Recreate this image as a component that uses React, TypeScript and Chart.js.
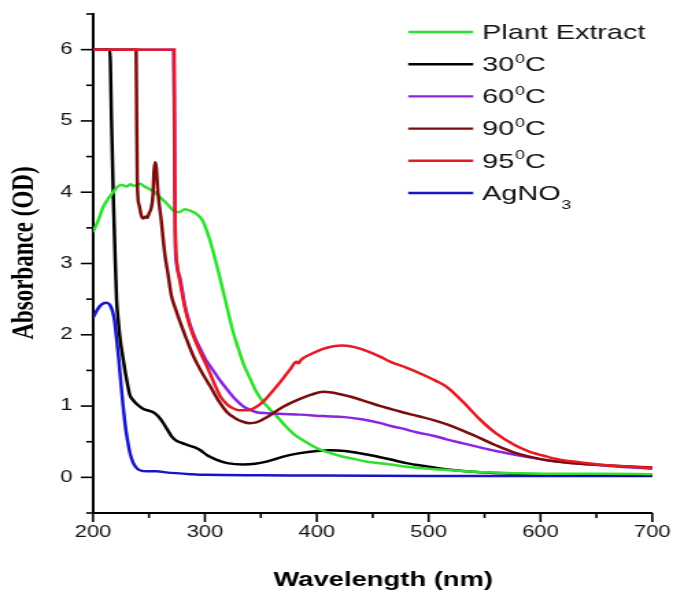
import React, { useEffect, useRef } from 'react';
import { Chart, registerables } from 'chart.js';

Chart.register(...registerables);

// The reference figure is horizontally stretched; we render on a narrower
// canvas and stretch it with CSS to reproduce text widths and line thickness.
const STRETCH = 1.37;
const W = 673;
const H = 595;
const IW = Math.round(W / STRETCH);

// ---- Data (wavelength in nm, absorbance in OD) ----
const plantWl = [200, 205, 209, 214, 218, 222, 226, 230, 233, 237, 242, 246, 250, 255, 260, 266, 272, 277, 282, 287, 292, 298, 304, 311, 318, 325, 330, 335, 340, 346, 351, 356, 364, 372, 380, 391, 400, 410, 421, 430, 445, 466, 480, 500, 520, 550, 600, 650, 700];
const plantAbs = [3.44, 3.62, 3.79, 3.92, 4.0, 4.08, 4.1, 4.08, 4.11, 4.09, 4.12, 4.08, 4.05, 4.0, 3.93, 3.84, 3.74, 3.72, 3.76, 3.74, 3.7, 3.6, 3.35, 2.95, 2.5, 2.05, 1.8, 1.57, 1.4, 1.2, 1.08, 0.99, 0.86, 0.72, 0.6, 0.49, 0.41, 0.35, 0.3, 0.27, 0.22, 0.18, 0.15, 0.12, 0.1, 0.07, 0.05, 0.05, 0.045];

const c30Wl = [200, 215, 216.5, 218, 219.5, 221, 222.5, 224.5, 226.5, 228.5, 230.5, 233, 236, 239, 245, 251, 255, 258, 262, 266, 270, 274, 278, 285, 291, 296, 302, 310, 320, 334, 345, 355, 370, 385, 400, 412, 425, 445, 466, 480, 500, 517, 546, 580, 620, 700];
const c30Abs = [6.0, 6.0, 5.0, 4.0, 3.2, 2.5, 2.2, 1.9, 1.7, 1.5, 1.33, 1.15, 1.08, 1.03, 0.96, 0.93, 0.9, 0.86, 0.78, 0.68, 0.58, 0.52, 0.49, 0.45, 0.42, 0.38, 0.31, 0.25, 0.2, 0.18, 0.19, 0.22, 0.29, 0.34, 0.37, 0.38, 0.37, 0.32, 0.25, 0.2, 0.15, 0.11, 0.07, 0.05, 0.04, 0.03];

const c60Wl = [200, 272, 272.6, 273, 273.5, 274.5, 278, 282, 286, 290, 296, 302, 307, 313, 320, 327, 334, 340, 347, 356, 370, 385, 406, 425, 440, 457, 466, 475, 490, 505, 517, 530, 546, 560, 576, 590, 606, 636, 670, 700];
const c60Abs = [6.0, 6.0, 5.0, 4.0, 3.3, 3.02, 2.78, 2.42, 2.18, 2.0, 1.8, 1.62, 1.51, 1.37, 1.23, 1.1, 1.0, 0.95, 0.91, 0.9, 0.89, 0.88, 0.86, 0.845, 0.815, 0.76, 0.72, 0.69, 0.63, 0.58, 0.53, 0.48, 0.42, 0.37, 0.32, 0.28, 0.24, 0.19, 0.15, 0.12];

const c90Wl = [200, 238.5, 239, 239.5, 240, 241.5, 243, 245, 247, 248.5, 250, 252, 253.5, 254.5, 255.5, 256.5, 258, 261, 264, 267, 270, 274, 278, 284, 290, 297, 305, 312, 320, 327, 334, 340, 346, 355, 370, 385, 395, 406, 420, 435, 445, 457, 466, 475, 490, 505, 517, 530, 546, 560, 576, 590, 606, 636, 670, 700];
const c90Abs = [6.0, 6.0, 5.0, 4.2, 3.95, 3.8, 3.68, 3.63, 3.66, 3.64, 3.7, 3.78, 3.95, 4.3, 4.42, 4.35, 4.0, 3.6, 3.15, 2.85, 2.55, 2.35, 2.17, 1.92, 1.69, 1.48, 1.27, 1.08, 0.91, 0.83, 0.78, 0.76, 0.77, 0.84, 0.99, 1.1, 1.16, 1.2, 1.17, 1.11, 1.06, 1.0, 0.96, 0.92, 0.86, 0.8, 0.74, 0.66, 0.55, 0.45, 0.35, 0.29, 0.24, 0.19, 0.16, 0.14];

const c95Wl = [200, 272.5, 273, 273.4, 274, 275.5, 278, 282, 286, 290, 296, 302, 308, 314, 320, 325, 331, 338, 345, 352, 360, 368, 376, 382, 383.5, 386, 395, 405, 415, 423, 430, 440, 450, 457, 466, 480, 495, 507, 517, 530, 546, 560, 576, 590, 606, 620, 636, 660, 680, 700];
const c95Abs = [6.0, 6.0, 4.5, 3.6, 3.2, 2.95, 2.72, 2.39, 2.15, 1.97, 1.75, 1.55, 1.33, 1.13, 1.02, 0.97, 0.94, 0.94, 0.98, 1.06, 1.2, 1.35, 1.51, 1.62, 1.6, 1.65, 1.73, 1.8, 1.84, 1.85, 1.84, 1.8, 1.74, 1.69, 1.62, 1.54, 1.44, 1.35, 1.26, 1.07, 0.81, 0.62, 0.46, 0.36, 0.29, 0.24, 0.21, 0.17, 0.15, 0.13];

const agWl = [200, 203, 206, 209, 212, 215, 217, 219, 221, 223, 225, 227, 229, 231, 233, 236, 239, 242, 248, 257, 265, 287, 300, 350, 400, 500, 600, 700];
const agAbs = [2.24, 2.33, 2.4, 2.44, 2.45, 2.42, 2.35, 2.22, 1.95, 1.65, 1.3, 0.98, 0.7, 0.5, 0.34, 0.2, 0.13, 0.1, 0.085, 0.085, 0.07, 0.045, 0.035, 0.03, 0.025, 0.02, 0.02, 0.02];

const seriesLabels = ['Plant Extract', '30⁰C', '60⁰C', '90⁰C', '95⁰C', 'AgNO₃'];
const seriesColors = ['#2fe02f', '#000000', '#8a26e0', '#7a0c0c', '#e31b23', '#1616c8'];
const seriesWl = [plantWl, c30Wl, c60Wl, c90Wl, c95Wl, agWl];
const seriesAbs = [plantAbs, c30Abs, c60Abs, c90Abs, c95Abs, agAbs];
const seriesOrder = [3, 4, 2, 1, 0, 5];

const xTickLabels = ['200', '300', '400', '500', '600', '700'];
const yTickLabels = ['0', '1', '2', '3', '4', '5', '6'];
const xTitle = 'Wavelength (nm)';
const yTitle = 'Absorbance (OD)';

const SANS = '"Liberation Sans", Arial, sans-serif';
const SERIF = '"Liberation Serif", "Times New Roman", serif';

const tickMarksPlugin = {
  id: 'tickMarks',
  afterDraw(chart: any) {
    const ctx = chart.ctx;
    const xs = chart.scales.x;
    const ys = chart.scales.y;
    ctx.save();
    ctx.strokeStyle = '#000';
    ctx.lineWidth = 1.6;
    xs.ticks.forEach((t: any) => {
      const px = xs.getPixelForValue(t.value);
      const len = xTickLabels.includes(String(t.value)) ? 9 : 5;
      ctx.beginPath();
      ctx.moveTo(px, xs.top);
      ctx.lineTo(px, xs.top + len);
      ctx.stroke();
    });
    ys.ticks.forEach((t: any) => {
      const py = ys.getPixelForValue(t.value);
      const len = yTickLabels.includes(String(t.value)) ? 9 : 5;
      ctx.beginPath();
      ctx.moveTo(ys.right - len, py);
      ctx.lineTo(ys.right, py);
      ctx.stroke();
    });
    ctx.restore();
  },
};

const titlesPlugin = {
  id: 'axisTitles',
  afterDraw(chart: any) {
    const ctx = chart.ctx;
    ctx.save();
    ctx.fillStyle = '#000';
    ctx.textAlign = 'center';
    ctx.textBaseline = 'middle';
    ctx.font = `bold 20px ${SANS}`;
    ctx.fillText(xTitle, 383 / STRETCH, 580);
    ctx.translate(25 / STRETCH, 253);
    ctx.rotate(-Math.PI / 2);
    ctx.font = `bold 23px ${SERIF}`;
    ctx.fillText(yTitle, 0, 0);
    ctx.restore();
  },
};

function drawRichText(ctx: any, text: string, x: number, y: number) {
  let cx = x;
  for (const ch of text) {
    if (ch === '⁰') {
      ctx.font = `13px ${SANS}`;
      ctx.fillText('0', cx + 0.5, y - 6);
      cx += ctx.measureText('0').width + 0.5;
    } else if (ch === '₃') {
      ctx.font = `13px ${SANS}`;
      ctx.fillText('3', cx + 0.5, y + 11);
      cx += ctx.measureText('3').width + 0.5;
    } else {
      ctx.font = `21px ${SANS}`;
      ctx.fillText(ch, cx, y);
      cx += ctx.measureText(ch).width;
    }
  }
}

const legendPlugin = {
  id: 'insideLegend',
  afterDraw(chart: any) {
    const ctx = chart.ctx;
    ctx.save();
    ctx.textAlign = 'left';
    ctx.textBaseline = 'middle';
    chart.data.datasets.forEach((ds: any, i: number) => {
      const y = 32 + i * 32.2;
      ctx.strokeStyle = ds.borderColor;
      ctx.lineWidth = 2.4;
      ctx.beginPath();
      ctx.moveTo(408 / STRETCH, y);
      ctx.lineTo(473 / STRETCH, y);
      ctx.stroke();
      ctx.fillStyle = '#111';
      drawRichText(ctx, ds.label, 482 / STRETCH, y + 1);
    });
    ctx.restore();
  },
};

export default function App() {
  const canvasRef = useRef<HTMLCanvasElement | null>(null);

  useEffect(() => {
    document.body.style.margin = '0';
    const canvas = canvasRef.current;
    if (!canvas) return;
    const datasets = seriesLabels.map((label, i) => ({
      label,
      data: seriesWl[i].map((x, j) => ({ x, y: seriesAbs[i][j] })),
      borderColor: seriesColors[i],
      backgroundColor: seriesColors[i],
      borderWidth: 2.5,
      pointRadius: 0,
      fill: false,
      cubicInterpolationMode: 'monotone' as const,
      order: seriesOrder[i],
    }));

    const chart = new Chart(canvas, {
      type: 'line',
      data: { datasets },
      options: {
        responsive: false,
        animation: false,
        devicePixelRatio: 1,
        layout: {
          padding: { left: 0, top: 14, right: IW - 652 / STRETCH, bottom: 0 },
        },
        plugins: {
          legend: { display: false },
          tooltip: { enabled: false },
        },
        scales: {
          x: {
            type: 'linear',
            min: 200,
            max: 700,
            grid: { display: false, drawTicks: false },
            border: { display: true, color: '#000', width: 2 },
            ticks: {
              stepSize: 50,
              autoSkip: false,
              maxRotation: 0,
              padding: 10,
              color: '#111',
              font: { family: SANS, size: 16 },
              callback: (v: any) => (xTickLabels.includes(String(v)) ? String(v) : ''),
            },
            afterFit: (s: any) => {
              s.height = H - 513;
              s.paddingLeft = 0;
              s.paddingRight = 0;
            },
          },
          y: {
            type: 'linear',
            min: -0.5,
            max: 6.5,
            grid: { display: false, drawTicks: false },
            border: { display: true, color: '#000', width: 2 },
            ticks: {
              stepSize: 0.5,
              autoSkip: false,
              padding: 15,
              color: '#111',
              font: { family: SANS, size: 16 },
              callback: (v: any) => (yTickLabels.includes(String(v)) ? String(v) : ''),
            },
            afterFit: (s: any) => {
              s.width = 93 / STRETCH;
              s.paddingTop = 0;
              s.paddingBottom = 0;
            },
          },
        },
      },
      plugins: [tickMarksPlugin, titlesPlugin, legendPlugin],
    });

    return () => {
      chart.destroy();
    };
  }, []);

  return (
    <div style={{ width: W, height: H, background: '#fff' }}>
      <canvas
        ref={canvasRef}
        width={IW}
        height={H}
        style={{ width: `${W}px`, height: `${H}px`, display: 'block' }}
      />
    </div>
  );
}
